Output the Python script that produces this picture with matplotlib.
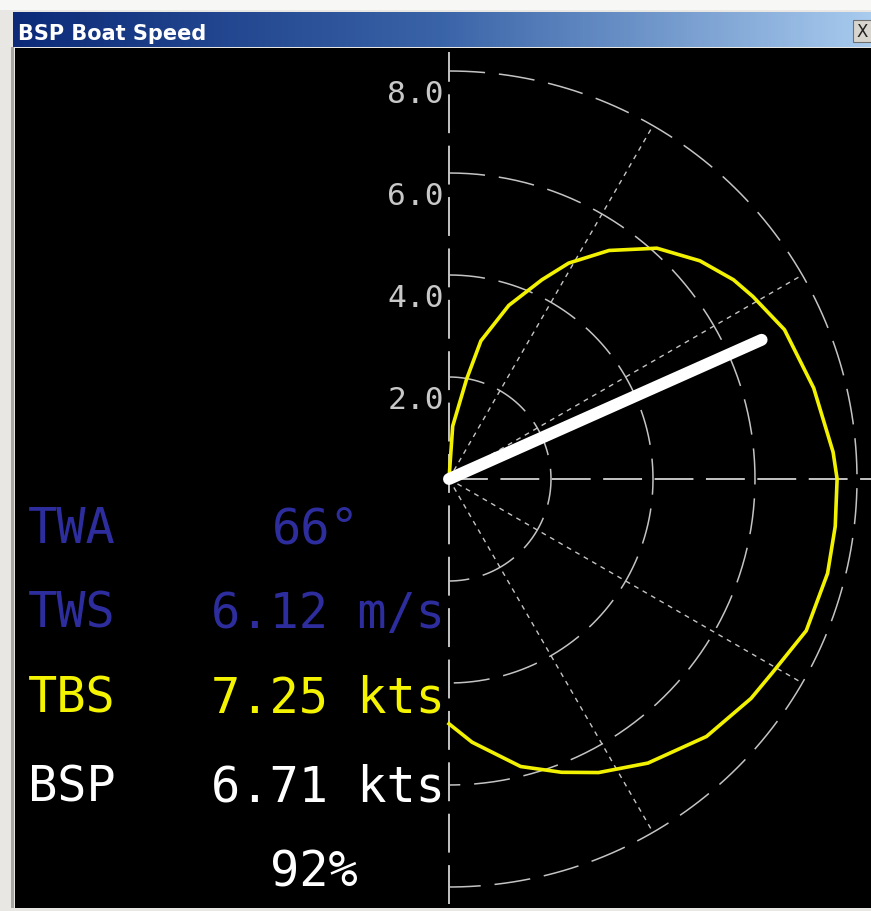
import numpy as np
import matplotlib
matplotlib.use("Agg")
import matplotlib.pyplot as plt
from matplotlib.colors import LinearSegmentedColormap
from matplotlib.patches import Rectangle

plt.rcParams["lines.scale_dashes"] = False

# polar of target boat speed (TBS, kts) against true wind angle (deg)
polar_twa = [0, 4, 10, 13, 19, 25, 29, 35, 42, 49, 55, 59, 66, 76, 86, 90,
             97, 104, 113, 121, 126, 135, 145, 153, 159, 166, 175, 180]
polar_tbs = [0, 1.04, 1.99, 2.78, 3.60, 4.31, 4.84, 5.47, 6.09, 6.52, 6.81, 6.95,
             7.20, 7.37, 7.55, 7.61, 7.63, 7.65, 7.61, 7.39, 7.32, 7.14, 6.80,
             6.46, 6.16, 5.81, 5.18, 4.80]

ring_radii = [2, 4, 6, 8]
ring_labels = ["2.0", "4.0", "6.0", "8.0"]
spoke_angles = [30, 60, 120, 150]

twa = 66
bsp = 6.71
readout_names = ["TWA", "TWS", "TBS", "BSP"]
readout_values = ["66°", "6.12 m/s", "7.25 kts", "6.71 kts"]
bsp_percent = "92%"

W, H = 871, 912
CX, CY, PXK = 449, 480, 51.0   # polar centre in pixels, pixels per knot


def to_data(px, py):
    return (px - CX) / PXK, (CY - py) / PXK


def polar_xy(angle_deg, r):
    a = np.radians(np.asarray(angle_deg, dtype=float))
    r = np.asarray(r, dtype=float)
    return r * np.sin(a), r * np.cos(a)


fig = plt.figure(figsize=(W / 100, H / 100), dpi=100, facecolor="#e9e7e3")
fig.patches.append(Rectangle((0, 1 - 11 / H), 1, 11 / H, transform=fig.transFigure,
                             facecolor="#f7f7f5", edgecolor="none"))

# window title bar
tb = fig.add_axes([13 / W, 1 - 48 / H, (W - 13) / W, 35 / H])
grad = LinearSegmentedColormap.from_list("tb", ["#0c2a78", "#3a64a8", "#a8cbee"])
tb.imshow(np.linspace(0, 1, 256)[None, :], aspect="auto", cmap=grad,
          extent=(13, W, 48, 13))
tb.set_xlim(13, W)
tb.set_ylim(48, 13)
tb.axis("off")
tb.text(18, 40, "BSP Boat Speed", color="white", fontsize=15, fontweight="bold",
        family="DejaVu Sans", va="baseline", ha="left")
tb.add_patch(Rectangle((853, 21), 20, 22, facecolor="#d8d5ce", edgecolor="#707070", lw=0.8))
tb.text(862, 32, "X", color="#202020", fontsize=12, ha="center", va="center",
        family="DejaVu Sans")

# left frame line
fig.patches.append(Rectangle((11 / W, 3 / H), 3 / W, (909 - 48) / H,
                             transform=fig.transFigure, facecolor="#a8a6a2",
                             edgecolor="none"))

# main black display
ax = fig.add_axes([15 / W, 3 / H, (W - 15) / W, (909 - 49) / H])
ax.set_facecolor("black")
x0, y1 = to_data(15, 49)
x1, y0 = to_data(W, 909)
ax.set_xlim(x0, x1)
ax.set_ylim(y0, y1)
ax.set_xticks([])
ax.set_yticks([])
for s in ax.spines.values():
    s.set_visible(False)

grid_c = "#c4c4c4"
th = np.linspace(0, 180, 300)
for r in ring_radii:
    gx, gy = polar_xy(th, np.full_like(th, r))
    ax.plot(gx, gy, color=grid_c, lw=1.1, dashes=(26, 10))
for a in spoke_angles:
    sx, sy = polar_xy([a, a], [0, 8])
    ax.plot(sx, sy, color=grid_c, lw=1.0, dashes=(3.5, 3.5))
ax.plot([0, x1], [0, 0], color=grid_c, lw=1.4, dashes=(28, 9))
ax.plot([0, 0], [to_data(0, 905)[1], to_data(0, 53)[1]], color=grid_c, lw=1.4,
        dashes=(28, 9))

for r, lab in zip(ring_radii, ring_labels):
    ax.text(-0.1, r - 0.61, lab, color="#c8c8c8", fontsize=22.5,
            family="DejaVu Sans Mono", ha="right", va="baseline")

# target polar and current boat speed
px_, py_ = polar_xy(polar_twa, polar_tbs)
ax.plot(px_, py_, color="#f2f200", lw=2.6, solid_joinstyle="round")
bx, by = polar_xy([twa, twa], [0, bsp])
ax.plot(bx, by, color="white", lw=8.6, solid_capstyle="round")

# readouts
colors = ["#2d2d9e", "#2d2d9e", "#f4f400", "white"]
baselines = [543, 628, 713, 802]
value_left = [272, 211, 211, 211]
for name, val, c, yb, xl in zip(readout_names, readout_values, colors, baselines, value_left):
    lx, ly = to_data(28, yb)
    ax.text(lx, ly, name, color=c, fontsize=35, family="DejaVu Sans Mono",
            ha="left", va="baseline")
    vx, vy = to_data(xl, yb)
    ax.text(vx, vy, val, color=c, fontsize=35, family="DejaVu Sans Mono",
            ha="left", va="baseline")
px2, py2 = to_data(270, 887)
ax.text(px2, py2, bsp_percent, color="white", fontsize=35, family="DejaVu Sans Mono",
        ha="left", va="baseline")

fig.savefig("out.png", dpi=100, facecolor=fig.get_facecolor())
